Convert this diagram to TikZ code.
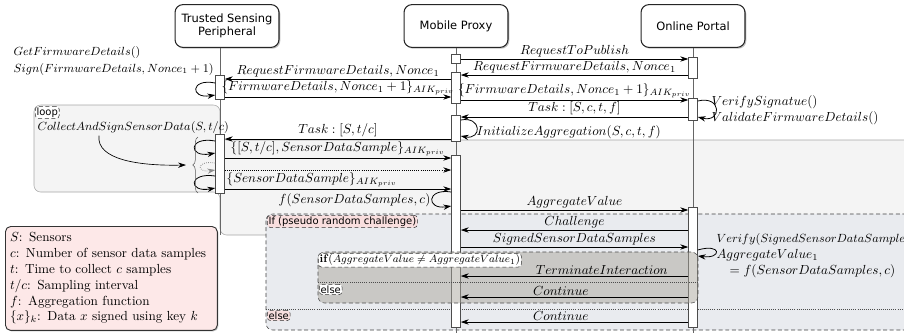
\documentclass[tikz,border=0pt]{standalone}
\usepackage{fontspec}
\setsansfont{DejaVu Sans}
\usetikzlibrary{arrows.meta,shadows,decorations.pathreplacing}

\definecolor{loopgray}{HTML}{F4F4F4}
\definecolor{altgray}{HTML}{E9EBEF}
\definecolor{optgray}{HTML}{ABA69C}
\definecolor{tagpink}{HTML}{F9DEDE}
\definecolor{notepink}{HTML}{FDE8E8}

% activation bar: name, x, top y, bottom y
\newcommand{\actbar}[4]{%
  \node[act, minimum height={(#4-#3)*0.76pt}] (#1) at (#2,{(#3+#4)/2}) {};}

\begin{document}
\begin{tikzpicture}[x=0.76pt,y=-0.76pt,
    head/.style={draw=black!85, line width=0.8pt, rounded corners=6pt, fill=white,
      align=center, minimum width=79pt, minimum height=32.5pt,
      font=\sffamily\fontsize{8.7}{10.2}\selectfont,
      drop shadow={shadow xshift=1pt, shadow yshift=-1pt, opacity=0.5}},
    life/.style={draw=black!60, line width=0.6pt},
    act/.style={draw=black!70, fill=white, inner sep=0pt, minimum width=6.8pt},
    msg/.style={draw=black, line width=0.6pt, -{Stealth[length=6pt,width=4pt]}},
    lbl/.style={above, inner sep=1.2pt},
    tag/.style={draw=black!80, densely dashed, rounded corners=2.5pt, fill=white,
      inner sep=1pt, anchor=north west, font=\sffamily\fontsize{7.6}{8.5}\selectfont},
    sep/.style={draw=black!70, densely dotted, line width=0.6pt}]
	\useasboundingbox (0,0) rectangle (904,332);
	\clip (0,0) rectangle (904,332);

	% loop block
	\draw[draw=black!35, fill=loopgray, rounded corners=5pt]
		(34,105) -- (220,105) -- (220,140) -- (912,140) -- (912,235)
		-- (220,235) -- (220,192) -- (34,192) -- cycle;
	\node[tag] (loop) at (35,106) {loop};

	% challenge block
	\draw[black!75, densely dashed, fill=altgray, rounded corners=5pt] (266,214) rectangle (912,330);
	\draw[sep] (266,309) -- (912,309);
	\node[tag, fill=tagpink] (ifchal) at (267,215) {If (pseudo random challenge)};
	\node[tag, fill=tagpink] (elsechal) at (267,310) {else};

	% lifelines
	\coordinate (xT) at (220,0);
	\node[head] (tsp) at (227,26) {Trusted Sensing\\Peripheral};
	\node[head] (proxy) at (456,26) {Mobile Proxy};
	\node[head] (portal) at (693,26) {Online Portal};
	\draw[life] (tsp.south -| xT) -- (xT |- 0,235);
	\draw[life] (proxy.south) -- (proxy.south |- 0,335);
	\draw[life] (portal.south) -- (portal.south |- 0,335);

	\actbar{a1}{220}{75}{99}
	\actbar{a2}{220}{134}{193}
	\node[act, minimum height=6.8pt] (pq) at (456,58.5) {};
	\actbar{p1}{456}{72}{103}
	\actbar{p2}{456}{115}{141}
	\actbar{p3}{456}{155}{327}
	\actbar{o1}{693}{57}{78}
	\actbar{o2}{693}{98}{120}
	\actbar{o3}{693}{207}{327}

	% aggregate check
	\draw[black!70, densely dashed, fill=optgray, fill opacity=0.5, rounded corners=5pt] (318,252) rectangle (698,303);
	\draw[sep] (318,282) -- (698,282);
	\node[tag, font=\fontsize{8.5}{10}\selectfont] (ifagg) at (318,253) {\textbf{if}($AggregateValue \neq AggregateValue_1$)};
	\node[tag] (elseagg) at (319,284) {else};

	% firmware check
	\draw[msg] (pq.east |- 0,59) -- node[lbl] (m1) {$RequestToPublish$} (o1.west |- 0,59);
	\draw[msg] (o1.west |- 0,75) -- node[lbl] (m2) {$RequestFirmwareDetails, Nonce_1$} (p1.east |- 0,75);
	\draw[msg] (p1.west |- 0,79) -- node[lbl] (m3) {$RequestFirmwareDetails, Nonce_1$} (a1.east |- 0,79);
	\draw[msg] (a1.west |- 0,83) .. controls (190,78) and (190,99) .. (a1.west |- 0,95);
	\node[align=left, anchor=west, inner sep=1pt, font=\fontsize{9.2}{12.5}\selectfont] (getfw) at (12,61) {$GetFirmwareDetails()$\\$Sign(FirmwareDetails, Nonce_1+1)$};
	\draw[msg] (a1.east |- 0,97) -- node[lbl] (m4) {$\{FirmwareDetails, Nonce_1+1\}_{AIK_{priv}}$} (p1.west |- 0,97);
	\draw[msg] (p1.east |- 0,100) -- node[lbl] (m5) {$\{FirmwareDetails, Nonce_1+1\}_{AIK_{priv}}$} (o2.west |- 0,100);
	\draw[msg] (o2.east |- 0,101) .. controls (722,95) and (722,123) .. (o2.east |- 0,117);
	\node[align=left, anchor=west, inner sep=1pt] (verify) at (710,110) {$VerifySignatue()$\\$ValidateFirmwareDetails()$};
	\draw[msg] (o2.west |- 0,117) -- node[lbl] (m6) {$Task:[S,c,t,f]$} (p2.east |- 0,117);
	\draw[msg] (p2.east |- 0,120) .. controls (482,116) and (482,140) .. (p2.east |- 0,136);
	\node[anchor=west, inner sep=1pt] (init) at (475,132) {$InitializeAggregation(S,c,t,f)$};

	% sensing loop
	\draw[msg] (p2.west |- 0,139) -- node[lbl] (m7) {$Task:[S,t/c]$} (a2.east |- 0,139);
	\draw[msg] (a2.west |- 0,141) .. controls (188,136) and (188,158) .. (a2.west |- 0,153);
	\draw[msg, draw=black!45, densely dotted] (a2.west |- 0,163) .. controls (196,160) and (196,173) .. (a2.west |- 0,170);
	\draw[msg] (a2.west |- 0,176) .. controls (188,172) and (188,193) .. (a2.west |- 0,188);
	\draw[black!65, decorate, decoration={brace, amplitude=4pt}] (198,193) -- (198,137);
	\coordinate (bracetip) at (186,165);
	\node[anchor=west, inner sep=1pt, font=\fontsize{9.4}{11}\selectfont] (collect) at (36,128) {$CollectAndSignSensorData(S,t/c)$};
	\draw[msg, line width=0.5pt] ([xshift=-26pt]collect.south) .. controls (96,160) and (140,166) .. (bracetip);
	\draw[msg] (a2.east |- 0,158) -- node[lbl] (m8) {$\{[S,t/c], SensorDataSample\}_{AIK_{priv}}$} (p3.west |- 0,158);
	\draw[msg, densely dotted] (a2.east |- 0,170) -- (p3.west |- 0,170);
	\draw[msg] (a2.east |- 0,189) -- node[lbl, pos=0, anchor=south west] (m10) {$\{SensorDataSample\}_{AIK_{priv}}$} (p3.west |- 0,189);
	\draw[msg] (p3.west |- 0,192) .. controls (426,188) and (426,210) .. (p3.west |- 0,206);
	\node[anchor=east, inner sep=1pt] (aggf) at (432,200) {$f(SensorDataSamples,c)$};

	% reporting
	\draw[msg] (p3.east |- 0,210) -- node[lbl] (m11) {$AggregateValue$} (o3.west |- 0,210);
	\draw[msg] (o3.west |- 0,230) -- node[lbl] (m12) {$Challenge$} (p3.east |- 0,230);
	\draw[msg] (p3.east |- 0,247) -- node[lbl] (m13) {$SignedSensorDataSamples$} (o3.west |- 0,247);
	\draw[msg] (o3.east |- 0,250) .. controls (722,243) and (722,259) .. (o3.east |- 0,256);
	\node[align=left, anchor=north west, inner sep=1pt] (verifyagg) at (715,232) {{\fontsize{9.2}{12}\selectfont$Verify(SignedSensorDataSamples)$}\\$AggregateValue_1$\\\quad$= f(SensorDataSamples,c)$};
	\draw[msg] (o3.west |- 0,276) -- node[lbl, pos=0.38] (m14) {$TerminateInteraction$} (p3.east |- 0,276);
	\draw[msg] (o3.west |- 0,297) -- node[lbl, pos=0.56] (m15) {$Continue$} (p3.east |- 0,297);
	\draw[msg] (o3.west |- 0,322) -- node[lbl, pos=0.56] (m16) {$Continue$} (p3.east |- 0,322);

	% notation
	\node[draw=black!80, line width=0.7pt, rounded corners=4pt, fill=notepink, anchor=north west,
		align=left, text width=154pt, inner sep=3.5pt, minimum height=79pt,
		drop shadow={shadow xshift=0.8pt, shadow yshift=-0.8pt, opacity=0.5}] (note) at (5,226)
		{$S$: Sensors\\
		 $c$: Number of sensor data samples\\
		 $t$: Time to collect $c$ samples\\
		 $t/c$: Sampling interval\\
		 $f$: Aggregation function\\
		 $\{x\}_k$: Data $x$ signed using key $k$};
\end{tikzpicture}
\end{document}
